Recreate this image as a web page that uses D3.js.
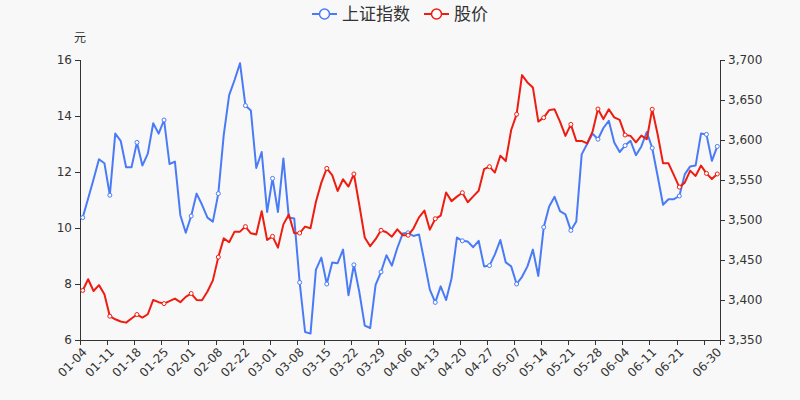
<!DOCTYPE html>
<html>
<head>
  <meta charset="utf-8">
  <style>
    body{
      margin:0;
      background:#f8f8f8;
      font-family: "DejaVu Sans", "Noto Sans CJK SC", sans-serif;
    }
    .tick-label{
      fill:#333;
      font-size:12px;
    }
    .axis-line{
      stroke:#333;
      stroke-width:1;
      shape-rendering:crispEdges;
    }
  </style>
  <script src="https://d3js.org/d3.v7.min.js"></script>
</head>
<body>
<div class="chart"></div>
<script>
// trading days, 2021 H1
const dates = [
  '01-04','01-05','01-06','01-07','01-08','01-11','01-12','01-13','01-14','01-15',
  '01-18','01-19','01-20','01-21','01-22','01-25','01-26','01-27','01-28','01-29',
  '02-01','02-02','02-03','02-04','02-05','02-08','02-09','02-10','02-18','02-19',
  '02-22','02-23','02-24','02-25','02-26','03-01','03-02','03-03','03-04','03-05',
  '03-08','03-09','03-10','03-11','03-12','03-15','03-16','03-17','03-18','03-19',
  '03-22','03-23','03-24','03-25','03-26','03-29','03-30','03-31','04-01','04-02',
  '04-06','04-07','04-08','04-09','04-12','04-13','04-14','04-15','04-16','04-19',
  '04-20','04-21','04-22','04-23','04-26','04-27','04-28','04-29','04-30','05-06',
  '05-07','05-10','05-11','05-12','05-13','05-14','05-17','05-18','05-19','05-20',
  '05-21','05-24','05-25','05-26','05-27','05-28','05-31','06-01','06-02','06-03',
  '06-04','06-07','06-08','06-09','06-10','06-11','06-15','06-16','06-17','06-18',
  '06-21','06-22','06-23','06-24','06-25','06-28','06-29','06-30'
];

// 上证指数 (right axis)
const indexValues = [
  3503,3527,3551,3576,3571,3531,3608,3599,3566,3566,
  3597,3568,3583,3621,3608,3625,3570,3573,3506,3484,
  3505,3533,3519,3503,3498,3533,3606,3656,3675,3696,
  3643,3637,3565,3585,3510,3552,3510,3577,3503,3502,
  3422,3360,3358,3438,3453,3420,3447,3446,3463,3406,
  3444,3410,3368,3365,3419,3435,3456,3443,3465,3483,
  3484,3480,3482,3448,3413,3397,3417,3400,3427,3478,
  3474,3473,3466,3474,3442,3443,3457,3475,3447,3442,
  3420,3429,3442,3463,3430,3491,3517,3529,3511,3507,
  3487,3498,3582,3595,3608,3601,3615,3624,3597,3585,
  3593,3599,3581,3592,3610,3590,3555,3519,3526,3526,
  3530,3557,3567,3568,3608,3607,3574,3592
];

// 股价 (left axis, 元)
const priceValues = [
  7.77,8.17,7.75,7.96,7.63,6.85,6.74,6.66,6.62,6.77,
  6.91,6.80,6.92,7.43,7.35,7.30,7.39,7.48,7.35,7.54,
  7.66,7.43,7.42,7.73,8.13,8.96,9.63,9.49,9.87,9.87,
  10.05,9.81,9.77,10.60,9.57,9.70,9.30,10.13,10.48,9.81,
  9.82,10.05,9.99,10.94,11.62,12.13,11.89,11.32,11.74,11.48,
  11.93,10.82,9.66,9.35,9.60,9.92,9.85,9.69,9.95,9.74,
  9.74,9.99,10.38,10.62,9.94,10.33,10.44,11.27,10.96,11.12,
  11.26,10.92,11.13,11.33,12.10,12.19,11.98,12.58,12.39,13.50,
  14.06,15.46,15.20,15.02,13.80,13.94,14.21,14.24,13.80,13.29,
  13.70,13.11,13.11,13.02,13.44,14.25,13.89,14.24,13.95,13.86,
  13.32,13.29,13.06,13.30,13.17,14.24,13.35,12.31,12.31,11.89,
  11.46,11.62,12.05,11.86,12.23,11.95,11.75,11.93
];

const leftTicks = [6, 8, 10, 12, 14, 16];
const rightTicks = [3350, 3400, 3450, 3500, 3550, 3600, 3650, 3700];
const seriesNames = ['上证指数', '股价'];
const colors = ['#4a7bf7', '#ee1d12'];

window.onload = ()=>{
  const width = 800;
  const height = 400;
  const margin = {top:60, right:80, bottom:60, left:80};

  const svg = d3.select('.chart')
    .append('svg')
    .attr('width', width)
    .attr('height', height);

  const x = d3.scaleBand()
    .domain(dates)
    .range([margin.left, width - margin.right]);
  const cx = d => x(d) + x.bandwidth()/2;

  const yLeft = d3.scaleLinear()
    .domain([6, 16])
    .range([height - margin.bottom, margin.top]);

  const yRight = d3.scaleLinear()
    .domain([3350, 3700])
    .range([height - margin.bottom, margin.top]);

  // axes
  const bottom = height - margin.bottom;
  const labelEvery = 5;
  const last = dates.length - 1;

  const xAxis = svg.append('g');
  xAxis.append('line').attr('class','axis-line')
    .attr('x1', margin.left).attr('x2', width - margin.right)
    .attr('y1', bottom + 0.5).attr('y2', bottom + 0.5);

  const tickDates = dates.filter((d,i)=> i % labelEvery === 0);
  xAxis.selectAll('.xtick')
    .data(tickDates.map(d => x(d)).concat([width - margin.right]))
    .join('line')
    .attr('class','axis-line')
    .attr('x1', d => Math.round(d) + 0.5).attr('x2', d => Math.round(d) + 0.5)
    .attr('y1', bottom).attr('y2', bottom + 5);

  // label for 06-28 collides with the last one and is dropped
  const labelDates = dates.filter((d,i)=> (i % labelEvery === 0 && last - i > 3) || i === last);
  xAxis.selectAll('.xlabel')
    .data(labelDates)
    .join('text')
    .attr('class','tick-label')
    .attr('text-anchor','end')
    .attr('transform', d => `translate(${cx(d)+2},${bottom + 10}) rotate(-45)`)
    .attr('dy','0.35em')
    .text(d => d);

  const leftAxis = svg.append('g');
  leftAxis.append('line').attr('class','axis-line')
    .attr('x1', margin.left + 0.5).attr('x2', margin.left + 0.5)
    .attr('y1', margin.top).attr('y2', bottom);
  leftAxis.selectAll('.lt')
    .data(leftTicks)
    .join('line')
    .attr('class','axis-line')
    .attr('x1', margin.left - 5).attr('x2', margin.left)
    .attr('y1', d => Math.round(yLeft(d)) + 0.5).attr('y2', d => Math.round(yLeft(d)) + 0.5);
  leftAxis.selectAll('.ll')
    .data(leftTicks)
    .join('text')
    .attr('class','tick-label')
    .attr('text-anchor','end')
    .attr('x', margin.left - 8)
    .attr('y', d => yLeft(d))
    .attr('dy','0.35em')
    .text(d => d);
  leftAxis.append('text')
    .attr('class','tick-label')
    .attr('x', margin.left)
    .attr('y', margin.top - 18)
    .attr('text-anchor','middle')
    .style('font-family','"Noto Sans CJK SC", sans-serif')
    .text('元');

  const fmt = d3.format(',');
  const rightAxis = svg.append('g');
  const rx = width - margin.right;
  rightAxis.append('line').attr('class','axis-line')
    .attr('x1', rx + 0.5).attr('x2', rx + 0.5)
    .attr('y1', margin.top).attr('y2', bottom);
  rightAxis.selectAll('.rt')
    .data(rightTicks)
    .join('line')
    .attr('class','axis-line')
    .attr('x1', rx).attr('x2', rx + 5)
    .attr('y1', d => Math.round(yRight(d)) + 0.5).attr('y2', d => Math.round(yRight(d)) + 0.5);
  rightAxis.selectAll('.rl')
    .data(rightTicks)
    .join('text')
    .attr('class','tick-label')
    .attr('x', rx + 8)
    .attr('y', d => yRight(d))
    .attr('dy','0.35em')
    .text(d => fmt(d));

  // series
  const series = [
    {name: seriesNames[0], values: indexValues, y: yRight, color: colors[0]},
    {name: seriesNames[1], values: priceValues, y: yLeft, color: colors[1]}
  ];

  series.forEach(s=>{
    const line = d3.line()
      .x((v,i) => cx(dates[i]))
      .y(v => s.y(v));

    svg.append('path')
      .datum(s.values)
      .attr('fill','none')
      .attr('stroke', s.color)
      .attr('stroke-width', 2)
      .attr('stroke-linejoin','round')
      .attr('d', line);

    const shown = s.values.map((v,i)=>({v, i})).filter(p => p.i % labelEvery === 0 || p.i === last);
    svg.selectAll(null)
      .data(shown)
      .join('circle')
      .attr('cx', p => cx(dates[p.i]))
      .attr('cy', p => s.y(p.v))
      .attr('r', 2)
      .attr('fill','#fff')
      .attr('stroke', s.color)
      .attr('stroke-width', 1);
  });

  // legend
  const legend = svg.append('g').attr('transform','translate(312,14)');
  const items = [{x:0, textX:30}, {x:112, textX:142}];
  series.forEach((s,i)=>{
    const g = legend.append('g').attr('transform',`translate(${items[i].x},0)`);
    g.append('line')
      .attr('x1',0).attr('x2',25)
      .attr('y1',0).attr('y2',0)
      .attr('stroke', s.color).attr('stroke-width',2);
    g.append('circle')
      .attr('cx',12.5).attr('cy',0).attr('r',5)
      .attr('fill','#fff')
      .attr('stroke', s.color).attr('stroke-width',1.5);
    g.append('text')
      .attr('x',30).attr('y',0).attr('dy','0.35em')
      .style('font-family','"Noto Sans CJK SC", sans-serif')
      .style('font-size','17px')
      .attr('fill','#333')
      .text(s.name);
  });
};
</script>
</body>
</html>
